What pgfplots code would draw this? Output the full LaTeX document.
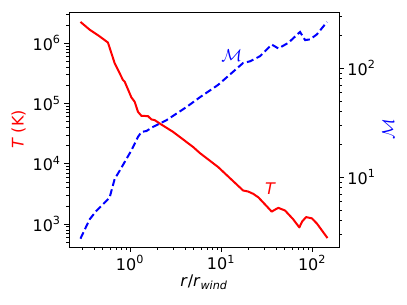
\documentclass[border=0pt]{standalone}
\usepackage{fontspec}
\setmainfont{DejaVu Sans}
\usepackage{pgfplots}
\pgfplotsset{compat=1.18}
\begin{document}
\begin{tikzpicture}
\useasboundingbox (-69pt,-58pt) rectangle (338pt,247pt);
\pgfplotsset{
  every axis/.append style={
    scale only axis, width=270pt, height=235pt,
    xmode=log, ymode=log, xmin=0.214, xmax=198,
    tick align=outside,
    major tick length=4.9pt, minor tick length=2.8pt,
    every tick/.style={black, line width=0.6pt},
    every minor tick/.style={black, line width=0.45pt},
    ticklabel style={font=\fontsize{16}{19}\selectfont},
    label style={font=\fontsize{16}{19}\selectfont},
    axis line style={line width=0.8pt},
  }
}
\begin{axis}[
  ymin=415, ymax=3.27e6,
  tick pos=left,
  xtick={1,10,100},
  xticklabels={10\textsuperscript{0},10\textsuperscript{1},10\textsuperscript{2}},
  minor xtick={0.3,0.4,0.5,0.6,0.7,0.8,0.9,2,3,4,5,6,7,8,9,20,30,40,50,60,70,80,90},
  ytick={1e3,1e4,1e5,1e6},
  yticklabels={10\textsuperscript{3},10\textsuperscript{4},10\textsuperscript{5},10\textsuperscript{6}},
  minor ytick={500,600,700,800,900,2000,3000,4000,5000,6000,7000,8000,9000,2e4,3e4,4e4,5e4,6e4,7e4,8e4,9e4,2e5,3e5,4e5,5e5,6e5,7e5,8e5,9e5,2e6,3e6},
  xlabel={\textit{r}/\textit{r}\textsubscript{\textit{wind}}},
  ylabel={\color{red}\textit{T} (K)},
  xlabel style={yshift=2pt},
]
\addplot[red, line width=2pt, no markers, line join=round] coordinates {
(0.286,2.24e6) (0.360,1.67e6) (0.464,1.29e6) (0.573,1.02e6) (0.679,4.64e5)
(0.837,2.45e5) (0.875,2.29e5) (1.036,1.26e5) (1.127,1.06e5) (1.225,7.24e4)
(1.336,6.21e4) (1.578,6.14e4) (1.72,5.41e4) (1.87,5.27e4) (2.12,4.64e4)
(2.98,3.36e4) (4.94,1.89e4) (5.86,1.50e4) (9.31,8.78e3) (17.5,3.59e3)
(19.9,3.45e3) (22.6,3.16e3) (25.7,2.77e3) (32.0,1.95e3) (36.1,1.60e3) (39.0,1.72e3) (42.7,1.85e3)
(50.6,1.67e3) (62.0,1.20e3) (72.6,877) (78.0,1.10e3) (86.1,1.30e3) (99.5,1.24e3) (113,1.02e3) (148,584)
};
\node[red, font=\fontsize{16}{19}\selectfont\itshape] at (axis cs:34.6,3.87e3) {T};
\end{axis}
\begin{axis}[
  ymin=2.28, ymax=326,
  axis x line=none,
  axis y line*=right,
  ytick pos=right,
  ytick={10,100},
  yticklabels={10\textsuperscript{1},10\textsuperscript{2}},
  minor ytick={3,4,5,6,7,8,9,20,30,40,50,60,70,80,90,200,300},
  ylabel={\color{blue}$\mathcal{M}$},
]
\addplot[blue, line width=2pt, dash pattern=on 7pt off 3.5pt, no markers] coordinates {
(0.286,2.72) (0.360,4.08) (0.427,4.88) (0.550,6.04) (0.598,6.48) (0.679,9.58)
(0.770,11.4) (1.036,17.5) (1.225,23.3) (1.336,25.9) (1.516,26.4) (1.79,28.8)
(2.52,33.2) (4.18,43.8) (5.86,53.8) (9.31,70.0) (17.5,111) (20.8,115)
(26.8,128) (36.1,164) (42.7,151) (55.0,170) (73.9,214) (84.0,180) (95.3,183)
(113,203) (146,264)
};
\node[blue, font=\fontsize{16}{19}\selectfont] at (axis cs:13.1,131) {$\mathcal{M}$};
\end{axis}
\end{tikzpicture}
\end{document}
